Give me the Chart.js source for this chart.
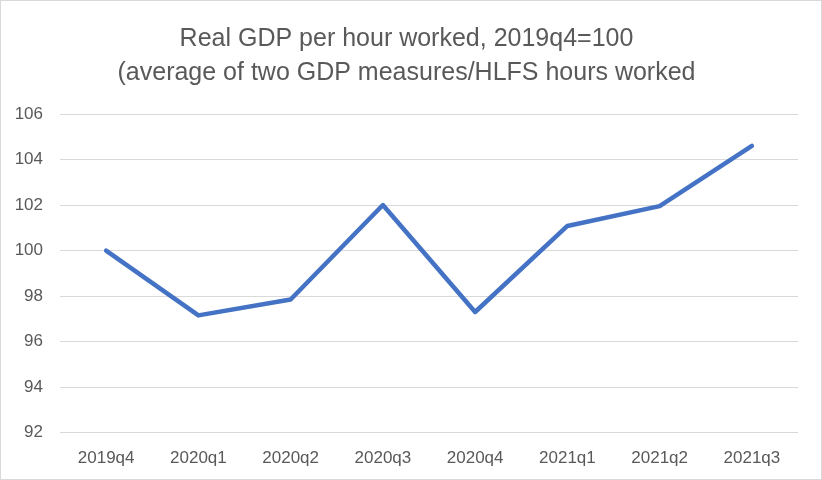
<!DOCTYPE html>
<html>
<head>
<meta charset="utf-8">
<script src="https://cdn.jsdelivr.net/npm/chart.js@4"></script>
<style>
    body { margin: 0; background: #fff; }
    #wrap {
        width: 822px;
        height: 480px;
        box-sizing: border-box;
        border: 1px solid #d9d9d9;
        position: relative;
    }
</style>
</head>
<body>
<div id="wrap"><canvas id="gdpChart"></canvas></div>
<script>
// Chart data
const quarters = ['2019q4', '2020q1', '2020q2', '2020q3', '2020q4', '2021q1', '2021q2', '2021q3'];
const gdpPerHour = [100, 97.15, 97.85, 102.0, 97.3, 101.08, 101.95, 104.6];
const titleLines = ['Real GDP per hour worked, 2019q4=100', '(average of two GDP measures/HLFS hours worked'];
const yMin = 92;
const yMax = 106;
const yStep = 2;

const textColor = '#595959';
const gridColor = '#d9d9d9';
const fontFamily = '"Liberation Sans", Arial, sans-serif';

document.addEventListener('DOMContentLoaded', function() {
    const ctx = document.getElementById('gdpChart');

    new Chart(ctx, {
        type: 'line',
        data: {
            labels: quarters,
            datasets: [{
                label: 'Real GDP per hour worked',
                data: gdpPerHour,
                borderColor: '#4472C4',
                backgroundColor: '#4472C4',
                borderWidth: 4.5,
                borderJoinStyle: 'round',
                borderCapStyle: 'round',
                pointRadius: 0,
                tension: 0
            }]
        },
        options: {
            responsive: true,
            maintainAspectRatio: false,
            animation: false,
            layout: {
                padding: { left: 14, right: 23, bottom: 2, top: 0 }
            },
            plugins: {
                legend: { display: false },
                tooltip: { enabled: false },
                title: {
                    display: true,
                    text: titleLines,
                    color: textColor,
                    font: { family: fontFamily, size: 25, weight: 'normal', lineHeight: 1.36 },
                    padding: { top: 21, bottom: 24 }
                }
            },
            scales: {
                x: {
                    offset: true,
                    grid: { display: false },
                    border: { display: false },
                    ticks: {
                        color: textColor,
                        font: { family: fontFamily, size: 17 },
                        padding: 8,
                        maxRotation: 0
                    }
                },
                y: {
                    min: yMin,
                    max: yMax,
                    grid: { color: gridColor, lineWidth: 1, drawTicks: false },
                    border: { display: false },
                    ticks: {
                        stepSize: yStep,
                        color: textColor,
                        font: { family: fontFamily, size: 17 },
                        padding: 17
                    },
                    // keep the axis narrow like the original (labels + one gap)
                    afterFit: function(scale) {
                        scale.width = 45;
                    }
                }
            }
        }
    });
});
</script>
</body>
</html>
